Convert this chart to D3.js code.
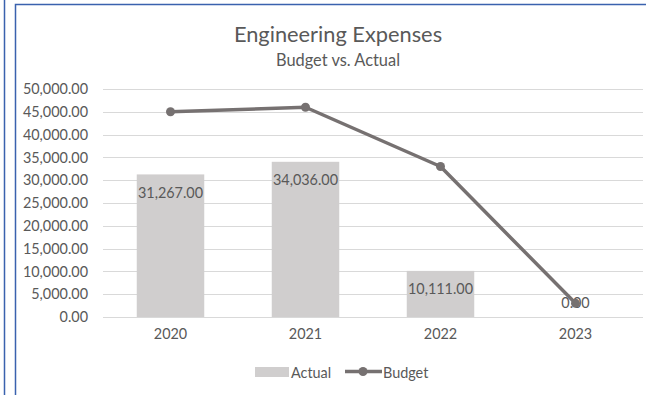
<!DOCTYPE html>
<html>
<head>
<meta charset="utf-8">
<script src="https://cdn.jsdelivr.net/npm/d3@7"></script>
<style>
  html, body { margin: 0; padding: 0; background: #fff; }
  svg { display: block; }
  text { font-family: Lato, "Open Sans", sans-serif; fill: #595959; }
</style>
</head>
<body>
<svg id="chart" width="646" height="395"></svg>
<script>
// Engineering expenses: actual spend (bars) against budget (line)
const years = ["2020", "2021", "2022", "2023"];
const actual = [31267, 34036, 10111, 0];
const budget = [45000, 46000, 33000, 3000];
const yTicks = [0, 5000, 10000, 15000, 20000, 25000, 30000, 35000, 40000, 45000, 50000];
const title = "Engineering Expenses";
const subtitle = "Budget vs. Actual";
const seriesNames = ["Actual", "Budget"];

const W = 646, H = 395;
const plot = { left: 103, right: 643, top: 89, bottom: 317 };
const barColor = "#D0CECE";
const lineColor = "#767171";
const gridColor = "#D9D9D9";
const frameColor = "#3A62AE";
const fontSize = 14.4;

const svg = d3.select("#chart");
const fmt = d3.format(",.2f");

// window frame lines
svg.append("line").attr("x1", 4.5).attr("x2", 4.5).attr("y1", 0).attr("y2", H)
  .attr("stroke", frameColor).attr("stroke-width", 1.5);
svg.append("path").attr("d", `M15.5,${H} V4.5 H${W}`)
  .attr("fill", "none").attr("stroke", frameColor).attr("stroke-width", 1.5);

const x = d3.scaleBand().domain(years).range([plot.left, plot.right])
  .paddingInner(0.5).paddingOuter(0.25);
const y = d3.scaleLinear().domain([0, 50000]).range([plot.bottom, plot.top]);

// horizontal gridlines
svg.append("g").selectAll("line").data(yTicks).join("line")
  .attr("x1", plot.left).attr("x2", plot.right)
  .attr("y1", d => Math.round(y(d)) + 0.5).attr("y2", d => Math.round(y(d)) + 0.5)
  .attr("stroke", gridColor).attr("stroke-width", 1);

// y axis labels
const yAxis = d3.axisLeft(y).tickValues(yTicks).tickFormat(fmt).tickSize(0).tickPadding(15);
svg.append("g").attr("transform", `translate(${plot.left},0)`).call(yAxis)
  .call(g => g.select(".domain").remove())
  .call(g => g.selectAll("text").attr("font-size", fontSize).attr("fill", "#595959")
    .attr("font-family", "Lato, 'Open Sans', sans-serif"));

// x axis labels
const xAxis = d3.axisBottom(x).tickSize(0).tickPadding(12);
svg.append("g").attr("transform", `translate(0,${plot.bottom})`).call(xAxis)
  .call(g => g.select(".domain").remove())
  .call(g => g.selectAll("text").attr("font-size", fontSize).attr("fill", "#595959")
    .attr("font-family", "Lato, 'Open Sans', sans-serif"));

// actual bars
svg.append("g").selectAll("rect").data(years).join("rect")
  .attr("x", d => x(d))
  .attr("width", x.bandwidth())
  .attr("y", (d, i) => y(actual[i]))
  .attr("height", (d, i) => y(0) - y(actual[i]))
  .attr("fill", barColor);

// bar value labels, inside the top end
svg.append("g").selectAll("text").data(years).join("text")
  .attr("x", d => x(d) + x.bandwidth() / 2)
  .attr("y", (d, i) => {
    const h = y(0) - y(actual[i]);
    return h > 36 ? y(actual[i]) + 18 : y(0) - 15;
  })
  .attr("text-anchor", "middle").attr("dominant-baseline", "central")
  .attr("font-size", fontSize)
  .text((d, i) => fmt(actual[i]));

// budget line and markers
const line = d3.line().x((d, i) => x(years[i]) + x.bandwidth() / 2).y(d => y(d));
svg.append("path").datum(budget).attr("d", line)
  .attr("fill", "none").attr("stroke", lineColor).attr("stroke-width", 3.5)
  .attr("stroke-linejoin", "round");
svg.append("g").selectAll("circle").data(budget).join("circle")
  .attr("cx", (d, i) => x(years[i]) + x.bandwidth() / 2)
  .attr("cy", d => y(d))
  .attr("r", 4.5).attr("fill", lineColor);

// titles
svg.append("text").attr("x", 338).attr("y", 33).attr("text-anchor", "middle")
  .attr("dominant-baseline", "central").attr("font-size", 21.8).text(title);
svg.append("text").attr("x", 338).attr("y", 59).attr("text-anchor", "middle")
  .attr("dominant-baseline", "central").attr("font-size", 16.4).text(subtitle);

// legend
const lg = svg.append("g");
lg.append("rect").attr("x", 255).attr("y", 367).attr("width", 34).attr("height", 10).attr("fill", barColor);
lg.append("text").attr("x", 291).attr("y", 372).attr("dominant-baseline", "central")
  .attr("font-size", fontSize).text(seriesNames[0]);
lg.append("line").attr("x1", 345).attr("x2", 382).attr("y1", 371.5).attr("y2", 371.5)
  .attr("stroke", lineColor).attr("stroke-width", 3.5);
lg.append("circle").attr("cx", 363).attr("cy", 371.5).attr("r", 4.5).attr("fill", lineColor);
lg.append("text").attr("x", 383).attr("y", 372).attr("dominant-baseline", "central")
  .attr("font-size", fontSize).text(seriesNames[1]);
</script>
</body>
</html>
